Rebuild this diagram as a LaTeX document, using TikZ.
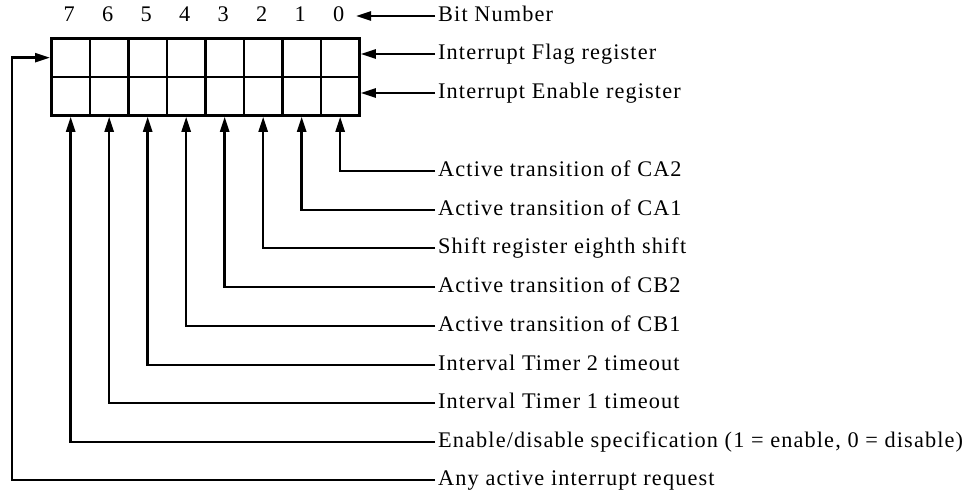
\documentclass[tikz,border=0pt]{standalone}
\usepackage{fontspec}
\setmainfont{Liberation Serif}[LetterSpace=5]
\usetikzlibrary{arrows.meta}
\begin{document}
\begin{tikzpicture}[x=1pt,y=-1pt,
  txt/.style={font=\fontsize{22.3}{26}\selectfont, inner sep=0pt, text height=14.5pt, text depth=3pt},
  lbl/.style={txt, anchor=west, inner xsep=3pt},
  cell/.style={draw, line width=2.8pt, minimum width=38.5pt, minimum height=38.5pt, inner sep=0pt, anchor=north west},
  arr/.style={line width=2.4pt, -{Triangle[length=15pt,width=9pt]}},
  conn/.style={line width=2.4pt}]
\useasboundingbox (0,0) rectangle (971,490);
% register cells
\foreach \i in {0,...,7} {
  \node[cell] (f\i) at ({50+(7-\i)*38.5},37) {};
  \node[cell] (e\i) at ({50+(7-\i)*38.5},75.5) {};
  \node[txt] (d\i) at ({69.25+(7-\i)*38.5},16) {\i};
}
% top labels
\node[lbl] (lbit) at (435,16) {Bit Number};
\node[lbl] (lflag) at (435,54) {Interrupt Flag register};
\node[lbl] (len) at (435,93) {Interrupt Enable register};
\coordinate (bitend) at (356,16);
\draw[arr] (lbit.west) -- (bitend);
\draw[arr] (lflag.west) -- (lflag.west -| f0.east);
\draw[arr] (len.west) -- (len.west -| e0.east);
% bit labels
\node[lbl] (l0) at (435,171) {Active transition of CA2};
\node[lbl] (l1) at (435,210) {Active transition of CA1};
\node[lbl] (l2) at (435,248) {Shift register eighth shift};
\node[lbl] (l3) at (435,287) {Active transition of CB2};
\node[lbl] (l4) at (435,326) {Active transition of CB1};
\node[lbl] (l5) at (435,365) {Interval Timer 2 timeout};
\node[lbl] (l6) at (435,403) {Interval Timer 1 timeout};
\node[lbl] (l7) at (435,442) {Enable/disable specification (1 = enable, 0 = disable)};
\node[lbl] (lany) at (435,480) {Any active interrupt request};
\foreach \i in {0,...,7} {
  \draw[arr] (l\i.west) -| (e\i.south);
}
\coordinate (lc) at (12,480);
\draw[arr] (lany.west) -- (lc) |- (f7.west);
\end{tikzpicture}
\end{document}
